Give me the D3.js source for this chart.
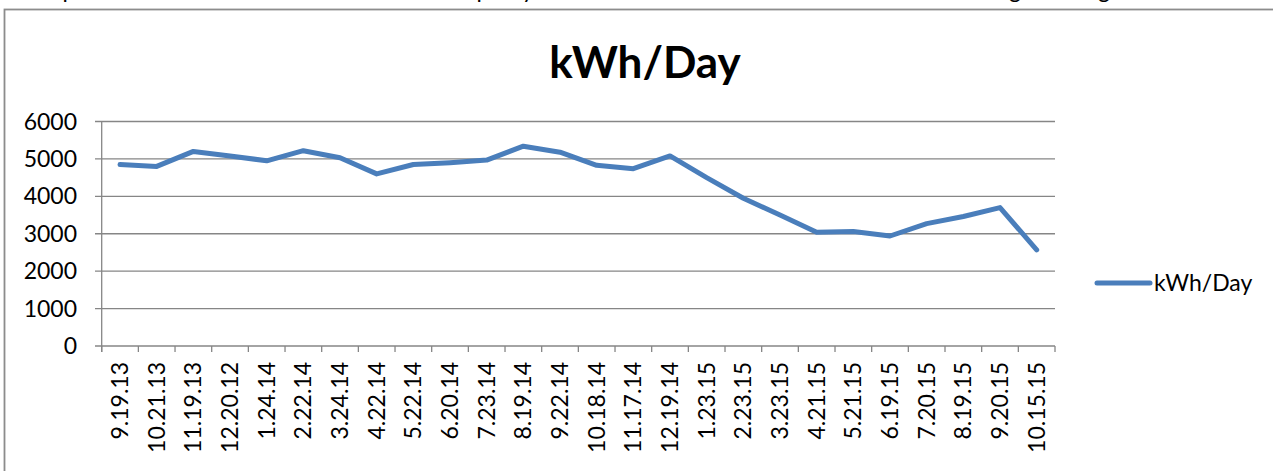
<!DOCTYPE html>
<html>
<head>
<meta charset="utf-8">
<script src="https://cdn.jsdelivr.net/npm/d3@7"></script>
<style>
  html, body { margin: 0; padding: 0; background: #fff; }
  svg { display: block; }
  text { font-family: Lato, "Open Sans", sans-serif; fill: #000; }
</style>
</head>
<body>
<svg id="chart" width="1273" height="471"></svg>
<script>
const categories = ["9.19.13","10.21.13","11.19.13","12.20.12","1.24.14","2.22.14","3.24.14","4.22.14","5.22.14","6.20.14","7.23.14","8.19.14","9.22.14","10.18.14","11.17.14","12.19.14","1.23.15","2.23.15","3.23.15","4.21.15","5.21.15","6.19.15","7.20.15","8.19.15","9.20.15","10.15.15"];
const values = [4850,4800,5200,5080,4950,5220,5030,4600,4850,4900,4970,5340,5180,4830,4740,5080,4500,3950,3500,3040,3060,2940,3270,3460,3700,2570];
const yTicks = [0,1000,2000,3000,4000,5000,6000];
const seriesName = "kWh/Day";
const chartTitle = "kWh/Day";
const topFragments = [{t:"p",x:69},{t:"p",x:483},{t:"y",x:528},{t:"g",x:1015},{t:"g",x:1104}];

const svg = d3.select("#chart");
const lineColor = "#4a7ebb";
const gridColor = "#868686";

// clipped text line from the document above
svg.selectAll("text.frag").data(topFragments).enter().append("text")
  .attr("class","frag").attr("x", d => d.x).attr("y", -2)
  .attr("text-anchor","middle").style("font-size","23px").text(d => d.t);

// outer frame
svg.append("rect").attr("x",4.5).attr("y",9.5).attr("width",1400).attr("height",600)
  .attr("fill","#fff").attr("stroke","#8c8c8c").attr("stroke-width",1.8);

const x = d3.scaleBand().domain(categories).range([101.7, 1055]);
const y = d3.scaleLinear().domain([0, 6000]).range([346, 121.5]);

// gridlines
svg.append("g").selectAll("line").data(yTicks).enter().append("line")
  .attr("x1", 95).attr("x2", 1055)
  .attr("y1", d => y(d)).attr("y2", d => y(d))
  .attr("stroke", gridColor).attr("stroke-width", 1.3);

// y axis line
svg.append("line").attr("x1",101.7).attr("x2",101.7).attr("y1",y(6000)).attr("y2",y(0)+6)
  .attr("stroke",gridColor).attr("stroke-width",1.3);

// x ticks at band edges
const edges = categories.map(c => x(c)).concat([x.range()[1]]);
svg.append("g").selectAll("line").data(edges).enter().append("line")
  .attr("x1", d => d).attr("x2", d => d).attr("y1", y(0)).attr("y2", y(0)+6)
  .attr("stroke", gridColor).attr("stroke-width", 1.3);

// y labels
svg.append("g").selectAll("text").data(yTicks).enter().append("text")
  .attr("x", 77).attr("y", d => y(d)).attr("dy","0.35em")
  .attr("text-anchor","end").style("font-size","23px").text(d => d);

// x labels
svg.append("g").selectAll("text").data(categories).enter().append("text")
  .attr("transform", d => `translate(${x(d)+x.bandwidth()/2},362) rotate(-90)`)
  .attr("dy","0.35em").attr("text-anchor","end").style("font-size","23px").text(d => d);

// line
const line = d3.line().x((d,i) => x(categories[i]) + x.bandwidth()/2).y(d => y(d));
svg.append("path").datum(values).attr("d", line).attr("fill","none")
  .attr("stroke", lineColor).attr("stroke-width", 5).attr("stroke-linejoin","round").attr("stroke-linecap","round");

// title
svg.append("text").attr("x", 645).attr("y", 78).attr("text-anchor","middle")
  .style("font-size","44px").style("font-weight","bold").text(chartTitle);

// legend
svg.append("line").attr("x1",1097).attr("x2",1150).attr("y1",283).attr("y2",283)
  .attr("stroke",lineColor).attr("stroke-width",5).attr("stroke-linecap","round");
svg.append("text").attr("x",1154).attr("y",283).attr("dy","0.35em")
  .style("font-size","23px").text(seriesName);
</script>
</body>
</html>
